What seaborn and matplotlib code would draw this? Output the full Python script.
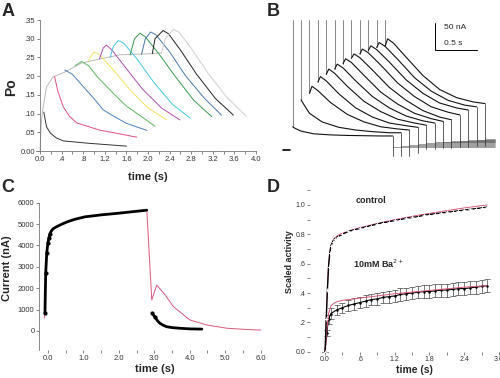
import numpy as np
import pandas as pd
import matplotlib
matplotlib.use("Agg")
import matplotlib.pyplot as plt
import seaborn as sns

sns.set_style("ticks")
plt.rcParams['font.family'] = ['Liberation Sans', 'DejaVu Sans']

### Panel A: open probability, one curve per pulse ###
a_env_t = [0.0, 0.02, 0.05, 0.12, 0.24, 0.46, 0.77, 1.11, 1.48, 2.07, 2.25]
a_env_po = [0.0, 0.07, 0.11, 0.171, 0.198, 0.211, 0.235, 0.246, 0.257, 0.260, 0.262]

a_k1_t = [0.07, 0.12, 0.19, 0.30, 0.43, 0.87, 1.60]
a_k1_po = [0.104, 0.065, 0.048, 0.035, 0.027, 0.021, 0.013]
a_r_t = [0.27, 0.33, 0.43, 0.55, 0.68, 1.10, 1.50, 1.79]
a_r_po = [0.199, 0.160, 0.118, 0.092, 0.075, 0.056, 0.045, 0.037]
a_b1_t = [0.46, 0.60, 0.80, 1.00, 1.17, 1.40, 1.60, 1.98]
a_b1_po = [0.216, 0.205, 0.172, 0.140, 0.110, 0.090, 0.074, 0.055]
a_g1_t = [0.65, 0.77, 0.90, 1.05, 1.25, 1.42, 1.60, 1.80, 2.13]
a_g1_po = [0.228, 0.239, 0.228, 0.200, 0.170, 0.145, 0.120, 0.100, 0.066]
a_y_t = [0.90, 1.00, 1.10, 1.36, 1.67, 2.00, 2.35]
a_y_po = [0.242, 0.265, 0.258, 0.216, 0.163, 0.115, 0.083]
a_m_t = [1.10, 1.17, 1.23, 1.33, 1.60, 1.90, 2.25, 2.59]
a_m_po = [0.246, 0.275, 0.283, 0.270, 0.220, 0.165, 0.115, 0.083]
a_c_t = [1.30, 1.36, 1.45, 1.55, 1.80, 2.10, 2.45, 2.78]
a_c_po = [0.250, 0.280, 0.295, 0.288, 0.245, 0.185, 0.125, 0.088]
a_g2_t = [1.67, 1.75, 1.85, 1.95, 2.20, 2.50, 2.85, 3.18]
a_g2_po = [0.257, 0.300, 0.315, 0.305, 0.260, 0.200, 0.135, 0.092]
a_b2_t = [1.88, 1.95, 2.05, 2.15, 2.40, 2.70, 3.05, 3.36]
a_b2_po = [0.258, 0.300, 0.318, 0.310, 0.265, 0.200, 0.140, 0.096]
a_k2_t = [2.08, 2.13, 2.28, 2.38, 2.60, 2.90, 3.25, 3.58]
a_k2_po = [0.260, 0.300, 0.322, 0.313, 0.270, 0.205, 0.140, 0.096]
a_gr_t = [2.25, 2.32, 2.47, 2.57, 2.80, 3.10, 3.45, 3.82]
a_gr_po = [0.262, 0.300, 0.325, 0.318, 0.275, 0.210, 0.145, 0.093]

a_colors = ['#333333', '#e0507a', '#4a7fc0', '#5cb85c', '#f2e266', '#b04fb0',
            '#44c8e0', '#3a9a50', '#4a78b0', '#222222', '#cfcfcf']
a_xticks = [0.0, 0.4, 0.8, 1.2, 1.6, 2.0, 2.4, 2.8, 3.2, 3.6, 4.0]
a_xlabels = ['0.0', '.4', '.8', '1.2', '1.6', '2.0', '2.4', '2.8', '3.2', '3.6', '4.0']
a_yticks = [0.0, 0.05, 0.10, 0.15, 0.20, 0.25, 0.30, 0.35]
a_ylabels = ['0.00', '.05', '.10', '.15', '.20', '.25', '.30', '.35']

### Panel B: current traces (nA), times relative to each step ###
b_start = [0.0, 0.1, 0.2, 0.3, 0.4, 0.5, 0.6, 0.7, 0.8, 0.9, 1.0, 1.1]
b_rel_t = [0.0, 0.03, 0.1, 0.25, 0.45, 0.65, 0.85, 1.05, 1.19]
b_tr01 = [43, 40, 35, 30, 28, 27, 26.5, 26, 26]
b_tr02 = [93, 85, 68, 52, 42, 37, 34, 32, 32]
b_tr03 = [105, 118, 110, 88, 66, 52, 43, 39, 37]
b_tr04 = [126, 136, 128, 104, 78, 61, 50, 45, 42]
b_tr05 = [140, 150, 142, 118, 90, 71, 57, 50, 46]
b_tr06 = [150, 159, 152, 128, 99, 78, 63, 54, 50]
b_tr07 = [160, 169, 162, 138, 107, 85, 68, 58, 53]
b_tr08 = [170, 178, 171, 148, 116, 92, 73, 61, 56]
b_tr09 = [178, 187, 180, 157, 124, 99, 80, 70, 65]
b_tr10 = [184, 193, 186, 163, 130, 105, 87, 78, 74]
b_tr11 = [190, 199, 192, 168, 134, 109, 92, 83, 80]
b_tr12 = [192, 206, 198, 172, 138, 112, 97, 89, 86]
b_drop = [-12, -12, -12, -5, 2, 2, 4, 4, 6, 6, 8, 8]
b_tail = [6, 8, 10, 12, 13, 14, 15, 16, 17, 18, 19, 20]
b_spike_top = 240

### Panel C: measured current (black) and model (red) ###
c_data_t = [-0.08, -0.06, -0.03, 0.0, 0.03, 0.06, 0.10, 0.15, 0.25, 0.40, 0.54, 0.75, 1.05, 1.50, 1.94, 2.40, 2.79]
c_data_i = [850, 2700, 3650, 4100, 4350, 4550, 4680, 4780, 4880, 5000, 5100, 5220, 5340, 5430, 5500, 5580, 5650]
c_tail_t = [2.95, 3.02, 3.10, 3.16, 3.25, 3.35, 3.50, 3.73, 4.00, 4.34]
c_tail_i = [827, 640, 460, 360, 270, 200, 160, 126, 100, 88]
c_fit_t = [-0.10, -0.08, -0.06, -0.03, 0.0, 0.05, 0.15, 0.40, 1.0, 2.0, 2.79, 2.93, 3.07,
           3.30, 3.54, 4.00, 4.48, 5.04, 5.50, 5.89, 6.0]
c_fit_i = [600, 850, 2700, 3650, 4100, 4500, 4780, 5000, 5330, 5500, 5650, 1450, 2150,
           1700, 1140, 520, 280, 130, 80, 50, 45]

### Panel D: scaled activity, control and 10 mM Ba2+ ###
d_ctrl_t = [0.0, 0.02, 0.04, 0.06, 0.08, 0.10, 0.13, 0.17, 0.22, 0.30, 0.40, 0.50, 0.60, 0.70,
            0.80, 0.90, 1.00, 1.10, 1.20, 1.30, 1.40, 1.50, 1.60, 1.70, 1.80, 1.90, 2.00,
            2.10, 2.20, 2.30, 2.40, 2.50, 2.60, 2.70, 2.79]
d_ctrl_v = [0.0, 0.22, 0.42, 0.58, 0.67, 0.72, 0.75, 0.77, 0.785, 0.80, 0.82, 0.83, 0.84, 0.85,
            0.86, 0.87, 0.88, 0.885, 0.895, 0.90, 0.91, 0.915, 0.92, 0.93, 0.935, 0.94, 0.945,
            0.95, 0.955, 0.96, 0.965, 0.97, 0.975, 0.98, 0.985]
d_ctrl_fit_t = [0.0, 0.03, 0.06, 0.10, 0.15, 0.25, 0.50, 0.80, 1.20, 1.60, 2.00, 2.40, 2.79]
d_ctrl_fit_v = [0.0, 0.35, 0.60, 0.72, 0.77, 0.80, 0.835, 0.865, 0.90, 0.93, 0.955, 0.98, 1.0]
d_ba_t = [0.0, 0.03, 0.06, 0.10, 0.20, 0.30, 0.40, 0.50, 0.60, 0.70, 0.80, 0.90, 1.00, 1.10,
          1.20, 1.30, 1.40, 1.50, 1.60, 1.70, 1.80, 1.90, 2.00, 2.10, 2.20, 2.30, 2.40,
          2.50, 2.60, 2.70, 2.79]
d_ba_v = [0.0, 0.13, 0.22, 0.26, 0.285, 0.30, 0.315, 0.325, 0.335, 0.345, 0.355, 0.36, 0.37,
          0.375, 0.38, 0.39, 0.395, 0.40, 0.405, 0.41, 0.41, 0.415, 0.42, 0.42, 0.425, 0.43,
          0.43, 0.435, 0.44, 0.445, 0.45]
d_ba_err = [0.0, 0.02, 0.03, 0.035, 0.035, 0.035, 0.035, 0.038, 0.038, 0.04, 0.04, 0.04, 0.04,
            0.04, 0.04, 0.042, 0.042, 0.042, 0.042, 0.043, 0.043, 0.043, 0.044, 0.044, 0.044,
            0.045, 0.045, 0.045, 0.045, 0.045, 0.045]
d_ba_fit_t = [0.0, 0.03, 0.06, 0.10, 0.15, 0.20, 0.30, 0.50, 0.80, 1.20, 1.60, 2.00, 2.40, 2.79]
d_ba_fit_v = [0.0, 0.15, 0.26, 0.31, 0.33, 0.34, 0.35, 0.36, 0.375, 0.395, 0.41, 0.425, 0.44, 0.45]

RED = '#d9587a'
TICK_FS = 5.5
W, H = 500, 378


def box(l, t, r, b):
    # pixel box -> figure fraction
    return [l / W, 1 - b / H, (r - l) / W, (b - t) / H]


def fpos(x, y):
    return x / W, 1 - y / H


def line(ax, x, y, **kw):
    sns.lineplot(x=x, y=y, ax=ax, estimator=None, sort=False, legend=False, **kw)


def style_ticks(ax, fs=TICK_FS):
    ax.tick_params(axis='both', which='both', labelsize=fs, length=2, width=0.5,
                   pad=1.5, colors='#555555', labelcolor='#333333')
    for s in ax.spines.values():
        s.set_linewidth(0.6)
        s.set_color('#777777')


fig = plt.figure(figsize=(5, 3.78), dpi=100)

# ---- A ----
ax_a = fig.add_axes(box(35.7, 20, 256, 151))
line(ax_a, a_env_t, a_env_po, color='#bbbbbb', lw=0.7)
a_curves = [(a_k1_t, a_k1_po), (a_r_t, a_r_po), (a_b1_t, a_b1_po), (a_g1_t, a_g1_po),
            (a_y_t, a_y_po), (a_m_t, a_m_po), (a_c_t, a_c_po), (a_g2_t, a_g2_po),
            (a_b2_t, a_b2_po), (a_k2_t, a_k2_po), (a_gr_t, a_gr_po)]
for (t, po), col in zip(a_curves, a_colors):
    line(ax_a, t, po, color=col, lw=0.7)
ax_a.set_xlim(-0.08, 4.0)
ax_a.set_ylim(0, 0.35)
ax_a.set_xticks(a_xticks, a_xlabels)
ax_a.set_xticks(np.arange(0, 4.01, 0.2), minor=True)
ax_a.set_yticks(a_yticks, a_ylabels)
ax_a.spines[['top', 'right']].set_visible(False)
ax_a.spines['left'].set_position(('data', 0))
ax_a.set_xlabel('')
ax_a.set_ylabel('')
style_ticks(ax_a)

# ---- B ----
ax_b = fig.add_axes(box(260, 10, 500, 185))
ax_b.set_xlim(-0.389, 2.468)
ax_b.set_ylim(-64.8, 259.3)
ax_b.axis('off')
b_traces = [b_tr01, b_tr02, b_tr03, b_tr04, b_tr05, b_tr06,
            b_tr07, b_tr08, b_tr09, b_tr10, b_tr11, b_tr12]
b_right = 2.41
for s0, tr, dmin, tail in zip(b_start, b_traces, b_drop, b_tail):
    t_end = s0 + b_rel_t[-1]
    ax_b.plot([s0, s0], [b_spike_top, tr[0]], color='#666666', lw=0.55)
    ax_b.plot([t_end, b_right], [tail, tail], color='#555555', lw=0.4)
    ax_b.plot([t_end, t_end], [tr[-1], dmin], color='#333333', lw=0.55)
    line(ax_b, [s0 + r for r in b_rel_t], tr, color='#111111', lw=0.8)
ax_b.plot([-0.115, -0.032], [0, 0], color='black', lw=1.2)
# scale bar 50 nA / 0.5 s
ax_b.plot([1.694, 1.694, 2.194], [235.2, 185.2, 185.2], color='black', lw=0.7)
ax_b.text(1.80, 226, '50 nA', fontsize=6, va='center', ha='left')
ax_b.text(1.80, 198, '0.5 s', fontsize=6, va='center', ha='left')

# ---- C ----
ax_c = fig.add_axes(box(39.3, 202.7, 260.7, 350))
line(ax_c, c_fit_t, c_fit_i, color=RED, lw=0.7)
line(ax_c, c_data_t, c_data_i, color='black', lw=2.0)
line(ax_c, c_tail_t, c_tail_i, color='black', lw=2.0)
ax_c.plot(c_data_t[:6], c_data_i[:6], 'o', color='black', ms=2)
ax_c.plot(c_tail_t[:2], c_tail_i[:2], 'o', color='black', ms=2)
ax_c.set_xlim(-0.24, 6.0)
ax_c.set_ylim(-889, 6000)
ax_c.set_xticks([0, 1, 2, 3, 4, 5, 6], ['0.0', '1.0', '2.0', '3.0', '4.0', '5.0', '6.0'])
ax_c.set_xticks(np.arange(0, 6.01, 0.5), minor=True)
ax_c.set_yticks([0, 1000, 2000, 3000, 4000, 5000, 6000],
                ['0', '1000', '2000', '3000', '4000', '5000', '6000'])
ax_c.spines[['top', 'right', 'bottom']].set_visible(False)
ax_c.set_xlabel('')
ax_c.set_ylabel('')
style_ticks(ax_c)

# ---- D ----
ax_d = fig.add_axes(box(310, 190.3, 500, 351.7))
ax_d.errorbar(d_ba_t, d_ba_v, yerr=d_ba_err, fmt='none', ecolor='#444444',
              elinewidth=0.5, capsize=2.3, capthick=0.5)
line(ax_d, d_ba_t, d_ba_v, color='black', lw=0.8, marker='o', ms=1.8,
     markeredgewidth=0)
line(ax_d, d_ba_fit_t, d_ba_fit_v, color=RED, lw=0.7)
line(ax_d, d_ctrl_fit_t, d_ctrl_fit_v, color=RED, lw=0.7)
line(ax_d, d_ctrl_t, d_ctrl_v, color='black', lw=1.0, marker='+', ms=3,
     markeredgewidth=0.6)
ax_d.set_xlim(-0.26, 3.017)
ax_d.set_ylim(0, 1.1)
ax_d.set_xticks([0, 0.6, 1.2, 1.8, 2.4, 3.0], ['0.0', '.6', '1.2', '1.8', '2.4', '3.0'])
ax_d.set_xticks([0.3, 0.9, 1.5, 2.1, 2.7], minor=True)
ax_d.set_yticks([0, 0.2, 0.4, 0.6, 0.8, 1.0], ['0.0', '.2', '.4', '.6', '0.8', '1.0'])
ax_d.set_yticks([0.1, 0.3, 0.5, 0.7, 0.9, 1.1], minor=True)
ax_d.spines[['top', 'right', 'bottom', 'left']].set_visible(False)
ax_d.set_xlabel('')
ax_d.set_ylabel('')
style_ticks(ax_d, fs=5)
ax_d.tick_params(axis='x', which='both', pad=1)
ax_d.text(0.52, 1.03, 'control', fontsize=6.5, fontweight='bold', va='center')
ax_d.text(0.48, 0.60, '10mM Ba$^{2+}$', fontsize=6.5, fontweight='bold', va='center')

# ---- labels ----
fig.text(*fpos(8, 11), 'A', fontsize=13, fontweight='bold', ha='center', va='center')
fig.text(*fpos(273, 11), 'B', fontsize=13, fontweight='bold', ha='center', va='center')
fig.text(*fpos(8, 188), 'C', fontsize=13, fontweight='bold', ha='center', va='center')
fig.text(*fpos(273, 188), 'D', fontsize=13, fontweight='bold', ha='center', va='center')
fig.text(*fpos(11, 87), 'Po', fontsize=10, fontweight='bold', rotation=90,
         ha='center', va='center')
fig.text(*fpos(148, 177), 'time (s)', fontsize=8, fontweight='bold', ha='center', va='center')
fig.text(*fpos(7, 268), 'Current (nA)', fontsize=8, fontweight='bold', rotation=90,
         ha='center', va='center')
fig.text(*fpos(155, 369), 'time (s)', fontsize=8, fontweight='bold', ha='center', va='center')
fig.text(*fpos(290, 262), 'Scaled activity', fontsize=6.5, fontweight='bold', rotation=90,
         ha='center', va='center')
fig.text(*fpos(414, 370), 'time (s)', fontsize=7.5, fontweight='bold', ha='center', va='center')

fig.savefig('out.png', dpi=100, facecolor='white')
